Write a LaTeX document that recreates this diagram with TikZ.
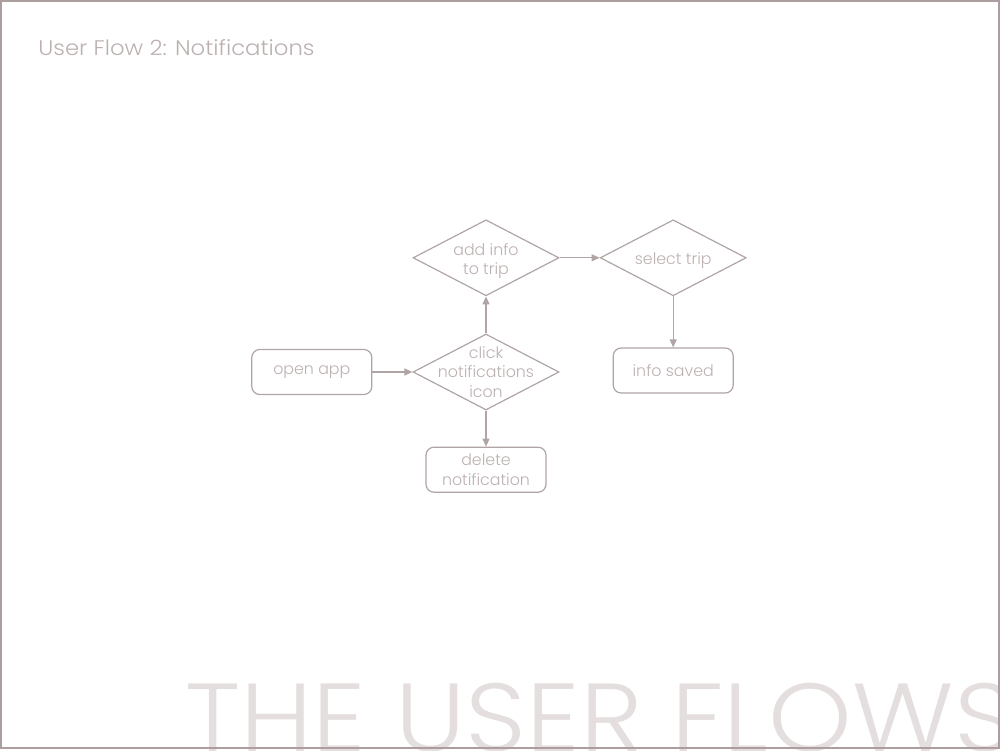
\documentclass[tikz,border=0pt]{standalone}
\usepackage{fontspec}
\setmainfont{Poppins Light}
\usetikzlibrary{positioning,shapes.geometric,arrows.meta}
\definecolor{framecol}{RGB}{172,158,158}
\definecolor{linecol}{RGB}{176,164,164}
\definecolor{textcol}{RGB}{188,176,176}
\definecolor{bigcol}{RGB}{228,222,222}

\tikzset{
  stepbox/.style={rectangle, rounded corners=1.6mm, draw=linecol, line width=0.24mm,
    minimum width=24mm, minimum height=9mm, inner sep=0pt, align=center,
    text=textcol, font=\fontsize{9}{11}\selectfont},
  decision/.style={diamond, draw=linecol, line width=0.24mm,
    minimum width=29.2mm, minimum height=15.2mm, inner sep=0pt},
  decisiontext/.style={text=textcol, align=center, inner sep=0pt,
    font=\fontsize{9}{11}\selectfont},
  flow/.style={draw=linecol, line width=0.24mm, -{Triangle[length=1.6mm,width=1.4mm]}}
}

\begin{document}
\begin{tikzpicture}[x=0.2mm, y=-0.2mm]
\useasboundingbox (0,0) rectangle (1000,750);
% big background heading, cut by the frame
\begin{scope}
\clip (0,0) rectangle (1000,750);
\node[anchor=base west, inner sep=0pt, text=bigcol, font=\fontsize{55}{55}\selectfont]
  (heading) at (185,751) {\scalebox{1.1}[1]{THE USER FLOWS}};
\end{scope}
\draw[framecol, line width=0.4mm] (1,1) rectangle (999,748);
\node[anchor=west, inner sep=0pt, text=textcol, font=\fontsize{12}{14}\selectfont]
  (title) at (38,48) {\scalebox{1.08}[1]{User Flow 2: Notifications}};

% flow
\node[decision, label={[decisiontext]center:{click\\notifications\\icon}}] (click) at (486,372) {};
\node[stepbox, left=8mm of click] (open) {open app};
\node[decision, above=7.4mm of click, label={[decisiontext, yshift=-0.7mm]center:{add info\\to trip}}] (addinfo) {};
\node[decision, right=8mm of addinfo, label={[decisiontext, yshift=-0.6mm]center:{select trip}}] (select) {};
\node[stepbox, below=10.2mm of select] (saved) {info saved};
\node[stepbox, below=7.2mm of click] (delete) {delete\\notification};

\draw[flow] (open) -- (click);
\draw[flow] (click) -- (addinfo);
\draw[flow] (addinfo) -- (select);
\draw[flow] (select) -- (saved);
\draw[flow] (click) -- (delete);
\end{tikzpicture}
\end{document}
